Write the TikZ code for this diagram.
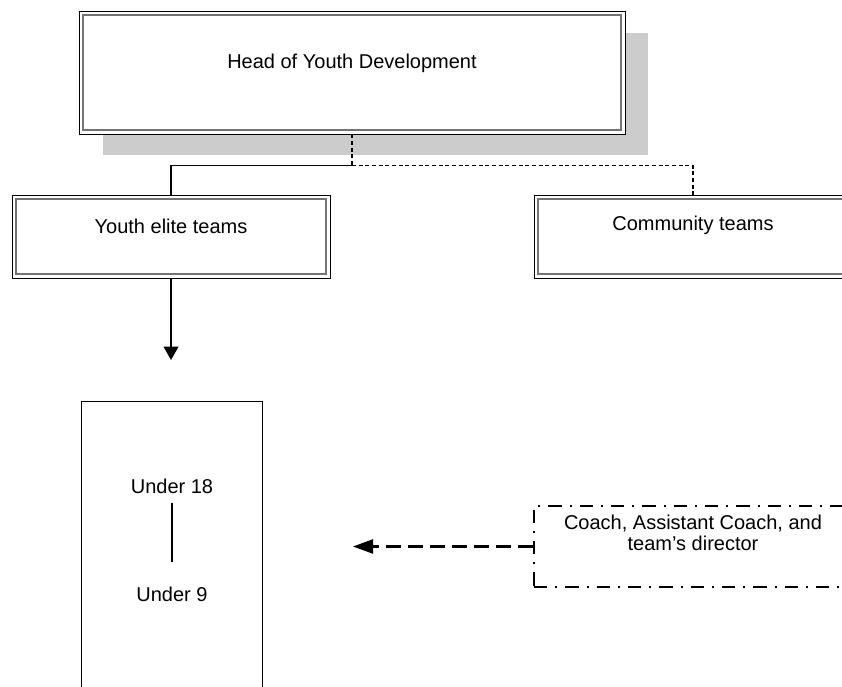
\documentclass[tikz,border=0pt]{standalone}
\usepackage{fontspec}
\setmainfont{Liberation Sans}
\usetikzlibrary{arrows.meta}
\begin{document}
\begin{tikzpicture}[x=0.75pt,y=-0.75pt,
  txt/.style={font=\fontsize{15}{15.5}\selectfont,inner sep=0pt,align=center},
  frame/.style={draw=black,line width=0.6pt,fill=white,inner sep=0pt},
  innerline/.style={draw=black!55,line width=1.1pt},
  shadowbox/.style={fill=black!20,draw=none},
  link/.style={draw=black,line width=0.8pt},
  dashlink/.style={draw=black,line width=1pt,dash pattern=on 3pt off 2pt},
  downarrow/.style={draw=black,line width=1.1pt,-{Triangle[length=10pt,width=11pt]}},
  dasharrow/.style={draw=black,line width=1.7pt,dash pattern=on 11pt off 5.5pt,-{Triangle[length=15pt,width=10.5pt]}},
  dashdotbox/.style={draw=black,line width=1.8pt,dash pattern=on 10pt off 6pt on 1.5pt off 6pt,inner sep=0pt}]
\clip (0,0) rectangle (842,686);
\fill[white] (0,0) rectangle (842,686);

% top level box with its drop shadow
\fill[shadowbox] (103,33) rectangle (648,155);
\node[frame,minimum width=409.5pt,minimum height=92.25pt] (head) at (352,72.5) {};
\draw[innerline] ([shift={(3.4pt,3.4pt)}]head.south west) rectangle ([shift={(-3.4pt,-3.4pt)}]head.north east);
\node[txt] (headtxt) at (352,63) {Head of Youth Development};

% second level
\node[frame,minimum width=238.5pt,minimum height=62.25pt] (elite) at (171,236.5) {};
\draw[innerline] ([shift={(3.4pt,3.4pt)}]elite.south west) rectangle ([shift={(-3.4pt,-3.4pt)}]elite.north east);
\node[txt] (elitetxt) at (171,226) {Youth elite teams};

\node[frame,minimum width=238.5pt,minimum height=62.25pt] (comm) at (693,236.5) {};
\draw[innerline] ([shift={(3.4pt,3.4pt)}]comm.south west) rectangle ([shift={(-3.4pt,-3.4pt)}]comm.north east);
\node[txt] (commtxt) at (693,225) {Community teams};

% connectors from the top box
\coordinate (hj) at (352,165.5);
\draw[dashlink] (head.south) -- (hj);
\draw[link] (hj) -| (elite.north);
\draw[dashlink] (hj) -| (comm.north);

% age groups
\coordinate (eltip) at (171,360);
\draw[downarrow] (elite.south) -- (eltip);
\node[frame,fill=none,minimum width=135.75pt,minimum height=239.25pt] (ages) at (171.5,560.5) {};
\node[txt] (u18) at (172,486) {Under 18};
\node[txt] (u9) at (172,594) {Under 9};
\draw[link] ([yshift=-7pt]u18.south) -- ([yshift=18pt]u9.north);

% staff box
\node[dashdotbox,minimum width=238.5pt,minimum height=60.75pt] (coach) at (693,546.5) {};
\node[txt] (coachtxt) at (693,533) {Coach, Assistant Coach, and\\team’s director};
\coordinate (ctip) at (353,546.5);
\draw[dasharrow] (coach.west) -- (ctip);
\end{tikzpicture}
\end{document}
